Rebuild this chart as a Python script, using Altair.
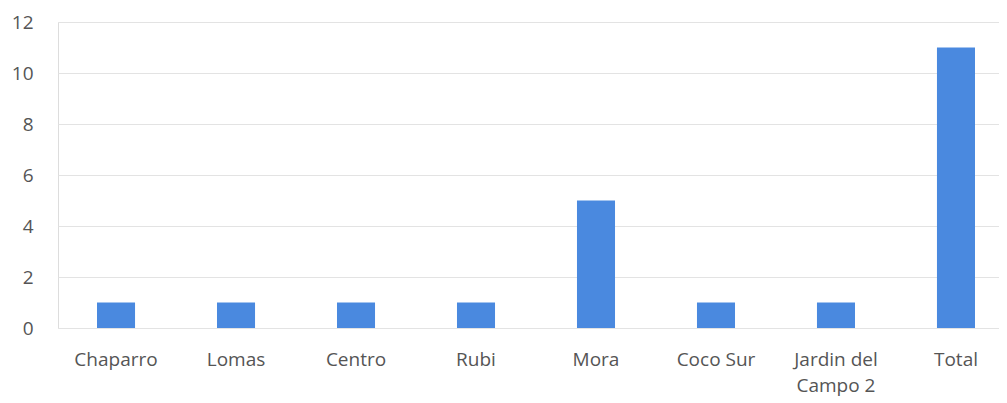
import altair as alt
import pandas as pd

categories = ["Chaparro", "Lomas", "Centro", "Rubi", "Mora", "Coco Sur", "Jardin del Campo 2", "Total"]
values = [1, 1, 1, 1, 5, 1, 1, 11]
y_ticks = [0, 2, 4, 6, 8, 10, 12]

df = pd.DataFrame({"zona": categories, "valor": values})

FONT = "Open Sans"
LABEL_COLOR = "#555555"

chart = alt.Chart(df).mark_bar(color="#4A89DF").encode(
    x=alt.X(
        "zona:N",
        sort=categories,
        title=None,
        scale=alt.Scale(range=[0, 956], paddingInner=0.683, paddingOuter=0.325),
        axis=alt.Axis(
            labelAngle=0,
            domain=False,
            ticks=False,
            grid=False,
            labelPadding=22,
            labelFont=FONT,
            labelFontSize=19,
            labelColor=LABEL_COLOR,
            labelLineHeight=26,
            labelExpr="datum.label == 'Jardin del Campo 2' ? ['Jardin del', 'Campo 2'] : datum.label",
        ),
    ),
    y=alt.Y(
        "valor:Q",
        title=None,
        scale=alt.Scale(domain=[0, 12], nice=False),
        axis=alt.Axis(
            values=y_ticks,
            domain=False,
            ticks=False,
            labelPadding=25,
            labelFont=FONT,
            labelFontSize=19,
            labelColor=LABEL_COLOR,
            gridColor="#E3E3E3",
            gridWidth=1,
        ),
    ),
).properties(
    width=941,
    height=306,
    autosize=alt.AutoSizeParams(type="none"),
    padding={"left": 50, "top": 14, "right": 0, "bottom": 70},
).configure_view(strokeWidth=0, stroke="transparent").configure(background="#FFFFFF")

chart.save("out.html", embed_options={"renderer": "svg", "actions": False})
